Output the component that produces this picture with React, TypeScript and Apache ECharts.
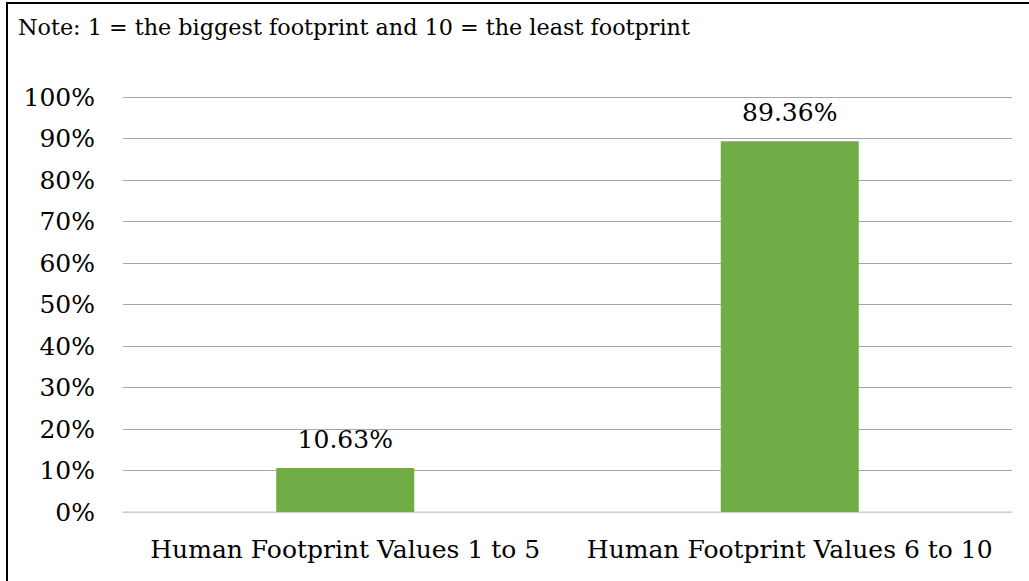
import React, { useEffect, useRef } from "react";
import * as echarts from "echarts";

const categories = ["Human Footprint Values 1 to 5", "Human Footprint Values 6 to 10"];
const values = [10.63, 89.36];
const noteText = "Note: 1 = the biggest footprint and 10 = the least footprint";

const FONT = "DejaVu Serif";

export default function App() {
  const ref = useRef<HTMLDivElement>(null);
  useEffect(() => {
    if (!ref.current) return;
    const chart = echarts.init(ref.current, undefined, { renderer: "svg" });
    chart.setOption({
      animation: false,
      backgroundColor: "#ffffff",
      textStyle: { fontFamily: FONT },
      grid: { left: 123, right: 17, top: 97, bottom: 69, containLabel: false },
      xAxis: {
        type: "category",
        data: categories,
        axisTick: { show: false },
        axisLine: { show: true, lineStyle: { color: "#D9D9D9", width: 1.5 } },
        axisLabel: { color: "#000", fontSize: 25, fontFamily: FONT, margin: 25, interval: 0 },
      },
      yAxis: {
        type: "value",
        min: 0,
        max: 100,
        interval: 10,
        axisLine: { show: false },
        axisTick: { show: false },
        splitLine: { lineStyle: { color: "#A6A6A6", width: 1 } },
        axisLabel: {
          color: "#000",
          fontSize: 25,
          fontFamily: FONT,
          margin: 28,
          formatter: (v: number) => `${v}%`,
        },
      },
      series: [
        {
          type: "bar",
          data: values,
          barWidth: 138,
          itemStyle: { color: "#70AD47" },
          label: {
            show: true,
            position: "top",
            distance: 16,
            color: "#000",
            fontSize: 25,
            fontFamily: FONT,
            formatter: (p: any) => `${p.value.toFixed(2)}%`,
          },
        },
      ],
      graphic: [
        {
          type: "rect",
          shape: { x: 7, y: 3, width: 1100, height: 700 },
          style: { fill: "none", stroke: "#000", lineWidth: 2 },
          silent: true,
        },
        {
          type: "text",
          left: 18,
          top: 16,
          style: { text: noteText, font: `22.3px "${FONT}"`, fill: "#000" },
        },
      ],
    });
    return () => chart.dispose();
  }, []);
  return (
    <div
      ref={ref}
      style={{ position: "absolute", left: 0, top: 0, width: 1029, height: 581 }}
    />
  );
}
